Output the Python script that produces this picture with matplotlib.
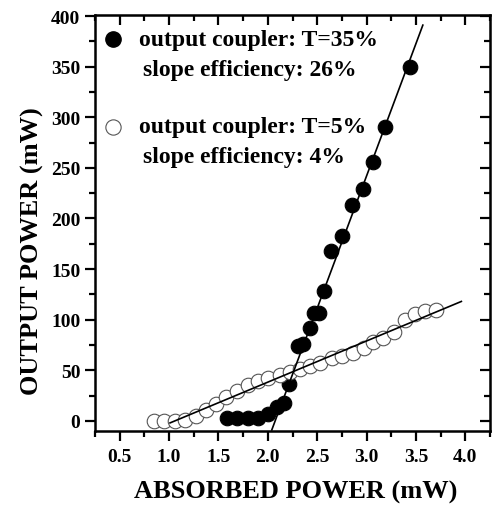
import numpy as np
import matplotlib.pyplot as plt
from matplotlib.ticker import MultipleLocator

plt.rcParams['font.family'] = ['Liberation Serif', 'DejaVu Serif']
plt.rcParams['font.weight'] = 'bold'
plt.rcParams['axes.labelweight'] = 'bold'

# T=35% output coupler (filled circles)
x_35 = [1.59, 1.69, 1.80, 1.90, 2.00, 2.09, 2.16, 2.21, 2.31, 2.36, 2.43,
        2.47, 2.52, 2.57, 2.64, 2.75, 2.85, 2.96, 3.07, 3.19, 3.44]
y_35 = [3, 3, 3, 3, 7, 14, 18, 36, 74, 76, 92,
        107, 107, 128, 168, 183, 213, 229, 256, 290, 350]

# T=5% output coupler (open circles)
x_5 = [0.85, 0.95, 1.06, 1.16, 1.27, 1.37, 1.48, 1.58, 1.69, 1.80, 1.90,
       2.00, 2.12, 2.22, 2.33, 2.43, 2.53, 2.65, 2.75, 2.86, 2.97, 3.07,
       3.17, 3.28, 3.39, 3.49, 3.59, 3.70]
y_5 = [0, 0, 0, 1, 5, 11, 17, 24, 30, 35, 39,
       42, 45, 48, 51, 54, 57, 62, 64, 67, 72, 78,
       82, 88, 100, 106, 109, 110]

# linear fits drawn in the figure
fit_35_x = [2.04, 3.57]
fit_35_y = [-9, 391]
fit_5_x = [1.01, 3.96]
fit_5_y = [-2, 118]

fig = plt.figure(figsize=(4.92, 5.10), dpi=100)
ax = fig.add_axes([95/492, 1-432/510, 395/492, 416/510])

ax.plot(fit_35_x, fit_35_y, color='black', lw=1.2, zorder=3)
ax.plot(fit_5_x, fit_5_y, color='black', lw=1.2, zorder=3)
ax.plot(x_35, y_35, 'o', ms=10.5, mfc='black', mec='black', mew=0.8, zorder=2)
ax.plot(x_5, y_5, 'o', ms=10.5, mfc='white', mec='#555555', mew=0.8, zorder=2)

ax.set_xlim(0.25, 4.25)
ax.set_ylim(-10, 401)
ax.xaxis.set_major_locator(MultipleLocator(0.5))
ax.xaxis.set_minor_locator(MultipleLocator(0.25))
ax.yaxis.set_major_locator(MultipleLocator(50))
ax.yaxis.set_minor_locator(MultipleLocator(25))
ax.set_xticks(np.arange(0.5, 4.01, 0.5))
ax.set_xticklabels(['0.5', '1.0', '1.5', '2.0', '2.5', '3.0', '3.5', '4.0'])

for s in ax.spines.values():
    s.set_linewidth(1.8)
ax.tick_params(which='major', direction='out', length=7, width=1.6, labelsize=14)
ax.tick_params(which='minor', direction='out', length=4, width=1.6)
ax.tick_params(axis='x', pad=5)

# top and right ticks point inwards
top = ax.secondary_xaxis('top')
top.xaxis.set_major_locator(MultipleLocator(0.5))
top.xaxis.set_minor_locator(MultipleLocator(0.25))
top.tick_params(which='major', direction='in', length=7, width=1.6, labeltop=False)
top.tick_params(which='minor', direction='in', length=4, width=1.6)
right = ax.secondary_yaxis('right')
right.yaxis.set_major_locator(MultipleLocator(50))
right.yaxis.set_minor_locator(MultipleLocator(25))
right.tick_params(which='major', direction='in', length=7, width=1.6, labelright=False)
right.tick_params(which='minor', direction='in', length=4, width=1.6)

ax.set_xlabel('ABSORBED POWER (mW)', fontsize=19, labelpad=12)
ax.set_ylabel('OUTPUT POWER (mW)', fontsize=19, labelpad=5)
ax.xaxis.set_label_coords(0.509, -0.118)
ax.yaxis.label.set_y(0.435)

# legend-like annotation
ax.plot([0.046], [0.942], 'o', ms=11, mfc='black', mec='black',
        transform=ax.transAxes, clip_on=False)
ax.plot([0.046], [0.731], 'o', ms=11, mfc='white', mec='#555555', mew=0.8,
        transform=ax.transAxes, clip_on=False)
ax.text(0.112, 0.942, 'output coupler: T=35%', transform=ax.transAxes,
        fontsize=17, va='center', ha='left')
ax.text(0.122, 0.870, 'slope efficiency: 26%', transform=ax.transAxes,
        fontsize=17, va='center', ha='left')
ax.text(0.112, 0.731, 'output coupler: T=5%', transform=ax.transAxes,
        fontsize=17, va='center', ha='left')
ax.text(0.122, 0.659, 'slope efficiency: 4%', transform=ax.transAxes,
        fontsize=17, va='center', ha='left')

fig.savefig('out.png', dpi=100)
